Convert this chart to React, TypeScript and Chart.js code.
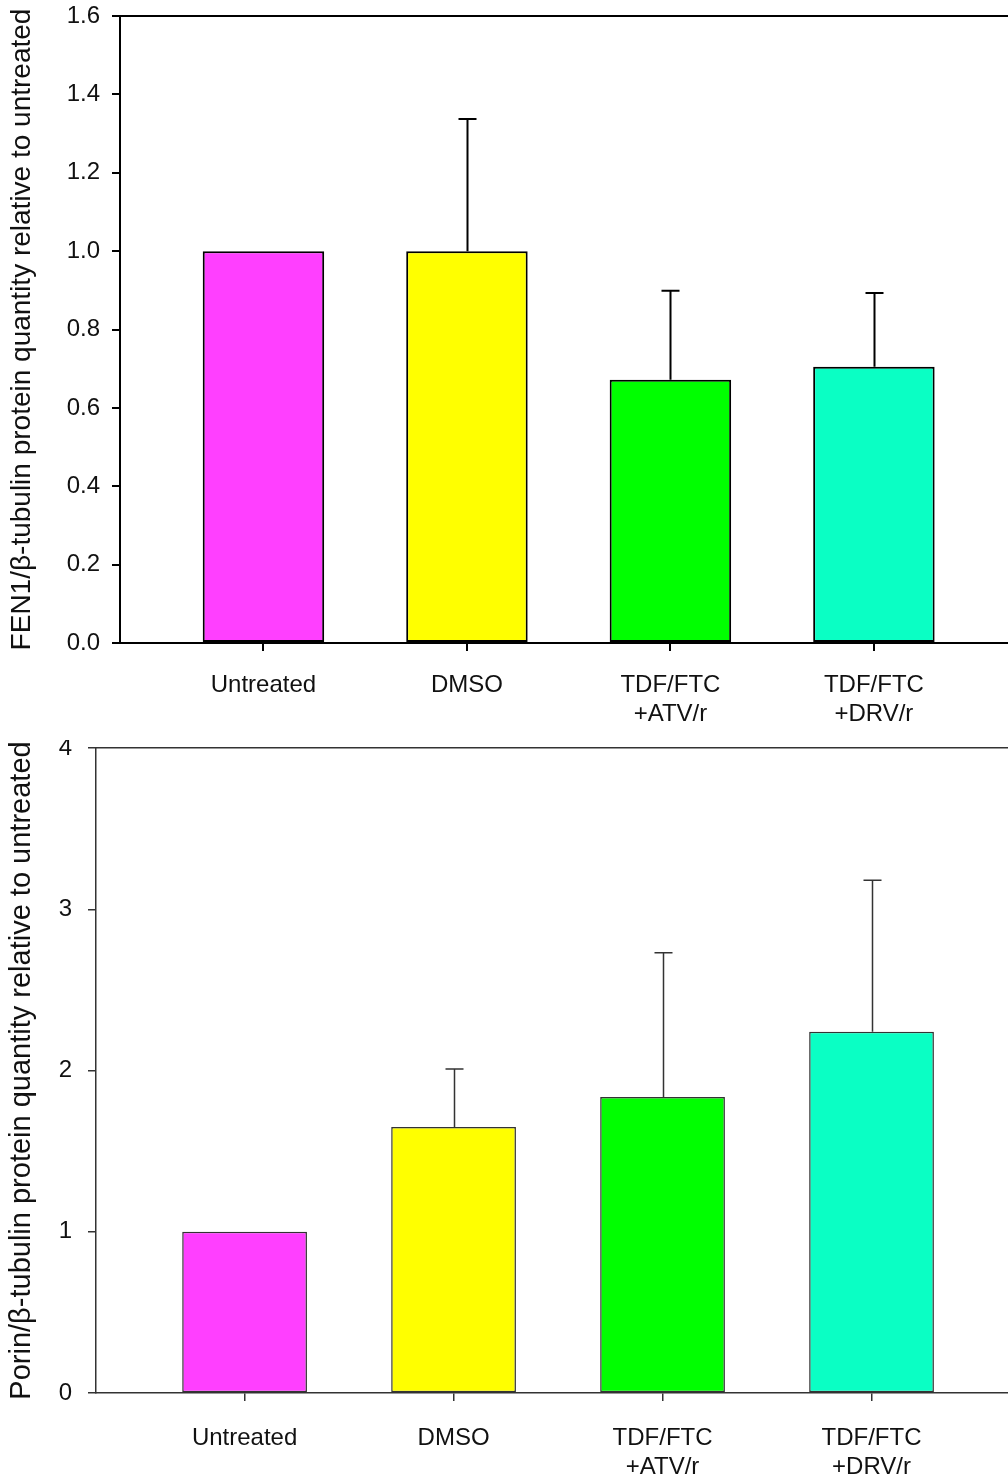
import React, { useEffect, useRef } from "react";
import { Chart, registerables } from "chart.js";

Chart.register(...registerables);

// Treatment groups (x positions 0..3)
const categories: (string | string[])[] = [
  "Untreated",
  "DMSO",
  ["TDF/FTC", "+ATV/r"],
  ["TDF/FTC", "+DRV/r"],
];
const barColors = ["#ff3fff", "#ffff00", "#00ff00", "#0affc4"];

// FEN1 / beta-tubulin, relative to untreated
const fen1Means = [1.0, 1.0, 0.672, 0.705];
const fen1Errors = [0, 0.337, 0.227, 0.188];
const fen1Ticks = [0, 0.2, 0.4, 0.6, 0.8, 1.0, 1.2, 1.4, 1.6];

// Porin / beta-tubulin, relative to untreated
const porinMeans = [1.0, 1.65, 1.835, 2.24];
const porinErrors = [0, 0.36, 0.895, 0.94];
const porinTicks = [0, 1, 2, 3, 4];

const FONT = "'Liberation Sans', Arial, sans-serif";

type PanelProps = {
  means: number[];
  errors: number[];
  yTicks: number[];
  decimals: number;
  yTitle: string;
  titleSize: number;
  height: number;
  padTop: number;
  axisWidth: number;
  xAxisHeight: number;
  xLabelPad: number;
  yLabelPad: number;
  xMin: number;
  xMax: number;
  lineColor: string;
  lineWidth: number;
  capHalf: number;
};

function Panel(p: PanelProps) {
  const ref = useRef<HTMLCanvasElement | null>(null);

  useEffect(() => {
    if (!ref.current) return;
    const yMax = p.yTicks[p.yTicks.length - 1];

    const errorBars = {
      id: "errorBars",
      afterDatasetsDraw(chart: any) {
        const ctx = chart.ctx;
        const xs = chart.scales.x;
        const ys = chart.scales.y;
        ctx.save();
        ctx.strokeStyle = p.lineColor;
        ctx.lineWidth = p.lineWidth;
        p.means.forEach((m, i) => {
          const e = p.errors[i];
          if (!e) return;
          const x = Math.round(xs.getPixelForValue(i)) + 0.5;
          const y0 = ys.getPixelForValue(m);
          const y1 = ys.getPixelForValue(m + e);
          ctx.beginPath();
          ctx.moveTo(x, y0);
          ctx.lineTo(x, y1);
          ctx.moveTo(x - p.capHalf, y1);
          ctx.lineTo(x + p.capHalf, y1);
          ctx.stroke();
        });
        ctx.restore();
      },
    };

    const chart = new Chart(ref.current, {
      type: "bar",
      data: {
        datasets: [
          {
            data: p.means.map((v, i) => ({ x: i, y: v })),
            backgroundColor: barColors,
            borderColor: p.lineColor,
            borderWidth: p.lineWidth,
            borderSkipped: false,
            barPercentage: 0.597,
            categoryPercentage: 1,
          } as any,
        ],
      },
      options: {
        animation: false,
        responsive: false,
        maintainAspectRatio: false,
        layout: { padding: { top: p.padTop, right: 0, left: 0, bottom: 0 } },
        plugins: { legend: { display: false }, tooltip: { enabled: false } },
        scales: {
          x: {
            type: "linear",
            position: "bottom",
            offset: false,
            min: p.xMin,
            max: p.xMax,
            afterBuildTicks: (axis: any) => {
              axis.ticks = categories.map((_, i) => ({ value: i }));
            },
            afterFit: (axis: any) => {
              axis.height = p.xAxisHeight;
              axis.paddingLeft = 0;
              axis.paddingRight = 0;
            },
            ticks: {
              autoSkip: false,
              maxRotation: 0,
              color: "#111",
              padding: p.xLabelPad,
              font: { family: FONT, size: 24 },
              callback: (v: any) => categories[v as number] as any,
            },
            grid: {
              offset: false,
              drawOnChartArea: false,
              drawTicks: true,
              tickLength: 8,
              color: p.lineColor,
              lineWidth: p.lineWidth,
            },
            border: { display: true, color: p.lineColor, width: p.lineWidth },
          },
          x2: {
            type: "linear",
            position: "top",
            offset: false,
            min: p.xMin,
            max: p.xMax,
            afterFit: (axis: any) => {
              axis.height = 0;
              axis.paddingLeft = 0;
              axis.paddingRight = 0;
            },
            ticks: { display: false },
            grid: { display: false, drawTicks: false, offset: false },
            border: { display: true, color: p.lineColor, width: p.lineWidth },
          },
          y: {
            type: "linear",
            min: 0,
            max: yMax,
            afterBuildTicks: (axis: any) => {
              axis.ticks = p.yTicks.map((v) => ({ value: v }));
            },
            afterFit: (axis: any) => {
              axis.width = p.axisWidth;
              axis.paddingTop = 0;
              axis.paddingBottom = 0;
            },
            ticks: {
              color: "#111",
              padding: p.yLabelPad,
              font: { family: FONT, size: 24 },
              callback: (v: any) => Number(v).toFixed(p.decimals),
            },
            grid: {
              drawOnChartArea: false,
              drawTicks: true,
              tickLength: 8,
              color: p.lineColor,
              lineWidth: p.lineWidth,
            },
            border: { display: true, color: p.lineColor, width: p.lineWidth },
            title: {
              display: true,
              text: p.yTitle,
              color: "#111",
              padding: { top: 5, bottom: 0 },
              font: { family: FONT, size: p.titleSize },
            },
          },
        },
      } as any,
      plugins: [errorBars],
    });
    return () => chart.destroy();
  }, []);

  return (
    <canvas
      ref={ref}
      width={1008}
      height={p.height}
      style={{ display: "block", width: 1008, height: p.height }}
    />
  );
}

export default function App() {
  return (
    <div
      style={{
        position: "absolute",
        left: 0,
        top: 0,
        width: 1008,
        height: 1481,
        background: "#fff",
        overflow: "hidden",
      }}
    >
      <Panel
        means={fen1Means}
        errors={fen1Errors}
        yTicks={fen1Ticks}
        decimals={1}
        yTitle="FEN1/β-tubulin protein quantity relative to untreated"
        titleSize={28}
        height={740}
        padTop={16}
        axisWidth={120}
        xAxisHeight={97}
        xLabelPad={20}
        yLabelPad={12}
        xMin={-0.705}
        xMax={3.659}
        lineColor="#000"
        lineWidth={2}
        capHalf={9}
      />
      <Panel
        means={porinMeans}
        errors={porinErrors}
        yTicks={porinTicks}
        decimals={0}
        yTitle="Porin/β-tubulin protein quantity relative to untreated"
        titleSize={29}
        height={741}
        padTop={8}
        axisWidth={96}
        xAxisHeight={88}
        xLabelPad={23}
        yLabelPad={16}
        xMin={-0.711}
        xMax={3.653}
        lineColor="#333"
        lineWidth={1.5}
        capHalf={9}
      />
    </div>
  );
}
